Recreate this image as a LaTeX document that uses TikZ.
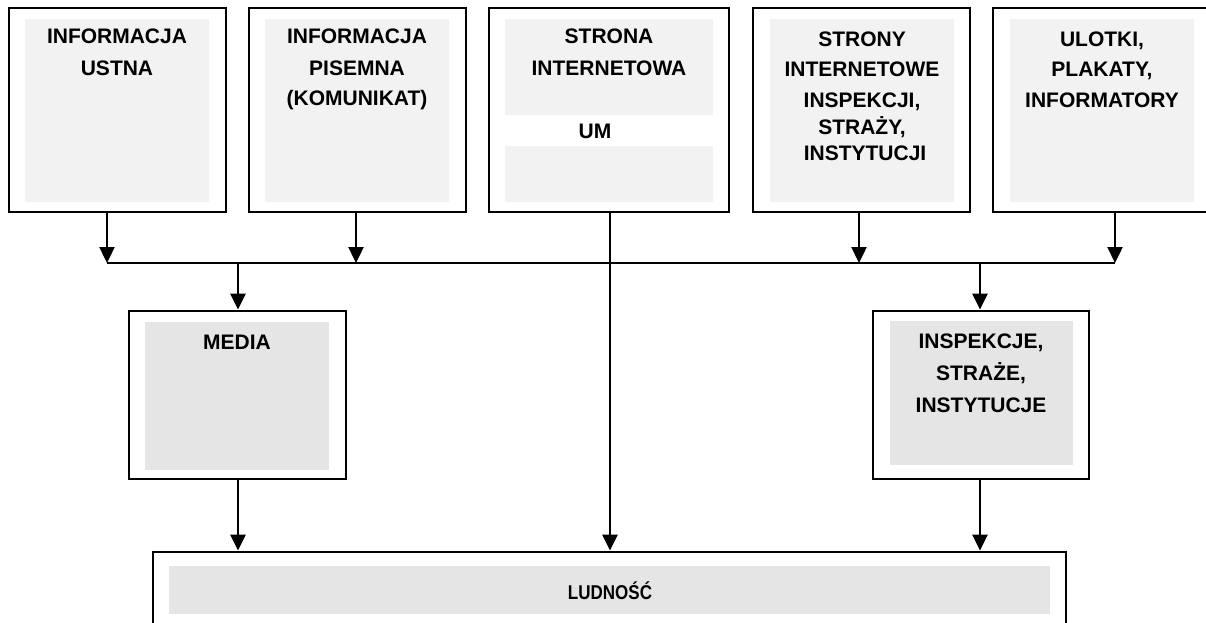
\documentclass[tikz,border=0pt]{standalone}
\usepackage{fontspec}
\setmainfont{Liberation Sans}
\usetikzlibrary{arrows.meta,calc}
\begin{document}
\begin{tikzpicture}[x=1pt,y=-1pt,
  outerbox/.style={draw=black,line width=2.8pt,fill=white,inner sep=0pt},
  topfill/.style={fill=gray!10},
  lowfill/.style={fill=gray!20},
  lbl/.style={font=\fontsize{21}{21}\selectfont\bfseries,anchor=base,inner sep=0pt},
  arr/.style={line width=2.4pt,-{Triangle[length=16pt,width=15pt]}},
  ln/.style={line width=2.4pt}]
\useasboundingbox (0,0) rectangle (1206,623);
% top boxes
\node[outerbox,minimum width=217pt,minimum height=204pt] (b1) at (117.5,110) {};
\node[outerbox,minimum width=217pt,minimum height=204pt] (b2) at (357.5,110) {};
\node[outerbox,minimum width=240pt,minimum height=204pt] (b3) at (609,110) {};
\node[outerbox,minimum width=217pt,minimum height=204pt] (b4) at (861.5,110) {};
\node[outerbox,minimum width=217pt,minimum height=204pt] (b5) at (1101.5,110) {};
\fill[topfill] (25,19) rectangle (209,202);
\fill[topfill] (265,19) rectangle (449,202);
\fill[topfill] (505,19) rectangle (713,115);
\fill[topfill] (505,146) rectangle (713,202);
\fill[topfill] (770,19) rectangle (954,202);
\fill[topfill] (1010,19) rectangle (1194,202);
% middle boxes
\node[outerbox,minimum width=217pt,minimum height=168pt] (media) at (237.5,395) {};
\node[outerbox,minimum width=216pt,minimum height=168pt] (insp) at (981,395) {};
\fill[lowfill] (145,322) rectangle (329,470);
\fill[lowfill] (890,321) rectangle (1073,465);
% bottom box
\node[outerbox,minimum width=913pt,minimum height=110pt] (lud) at (609.5,607) {};
\fill[lowfill] (169,566) rectangle (1050,614);
% labels
\node[lbl] (t1a) at (117,44) {INFORMACJA};
\node[lbl] (t1b) at (117,76) {USTNA};
\node[lbl] (t2a) at (357,44) {INFORMACJA};
\node[lbl] (t2b) at (357,76) {PISEMNA};
\node[lbl] (t2c) at (357,106) {(KOMUNIKAT)};
\node[lbl] (t3a) at (609,44) {STRONA};
\node[lbl] (t3b) at (609,76) {INTERNETOWA};
\node[lbl] (t3c) at (595,138) {UM};
\node[lbl] (t4a) at (862,47) {STRONY};
\node[lbl] (t4b) at (862,77) {INTERNETOWE};
\node[lbl] (t4c) at (862,107) {INSPEKCJI,};
\node[lbl] (t4d) at (862,134) {STRAŻY,};
\node[lbl] (t4e) at (865,160) {INSTYTUCJI};
\node[lbl] (t5a) at (1102,47) {ULOTKI,};
\node[lbl] (t5b) at (1102,77) {PLAKATY,};
\node[lbl] (t5c) at (1102,107) {INFORMATORY};
\node[lbl] (tm) at (237,349) {MEDIA};
\node[lbl] (tia) at (981,348) {INSPEKCJE,};
\node[lbl] (tib) at (981,380) {STRAŻE,};
\node[lbl] (tic) at (981,412) {INSTYTUCJE};
\node[lbl,font=\fontsize{20}{20}\selectfont\bfseries,xscale=0.85] (tl) at (610,599) {LUDNOŚĆ};
% connectors
\coordinate (h1) at (107,263);
\coordinate (h2) at (356,263);
\coordinate (h4) at (859,263);
\coordinate (h5) at (1115,263);
\coordinate (hm) at (238,263);
\coordinate (hi) at (980,263);
\draw[ln] (h1) -- (h5);
\draw[arr] (b1.south -| h1) -- (h1);
\draw[arr] (b2.south -| h2) -- (h2);
\draw[arr] (b4.south -| h4) -- (h4);
\draw[arr] (b5.south -| h5) -- (h5);
\draw[arr] (hm) -- (media.north -| hm);
\draw[arr] (hi) -- (insp.north -| hi);
\draw[arr] (b3.south -| 610,0) -- (lud.north -| 610,0);
\draw[arr] (media.south -| hm) -- (lud.north -| hm);
\draw[arr] (insp.south -| hi) -- (lud.north -| hi);
\end{tikzpicture}
\end{document}
